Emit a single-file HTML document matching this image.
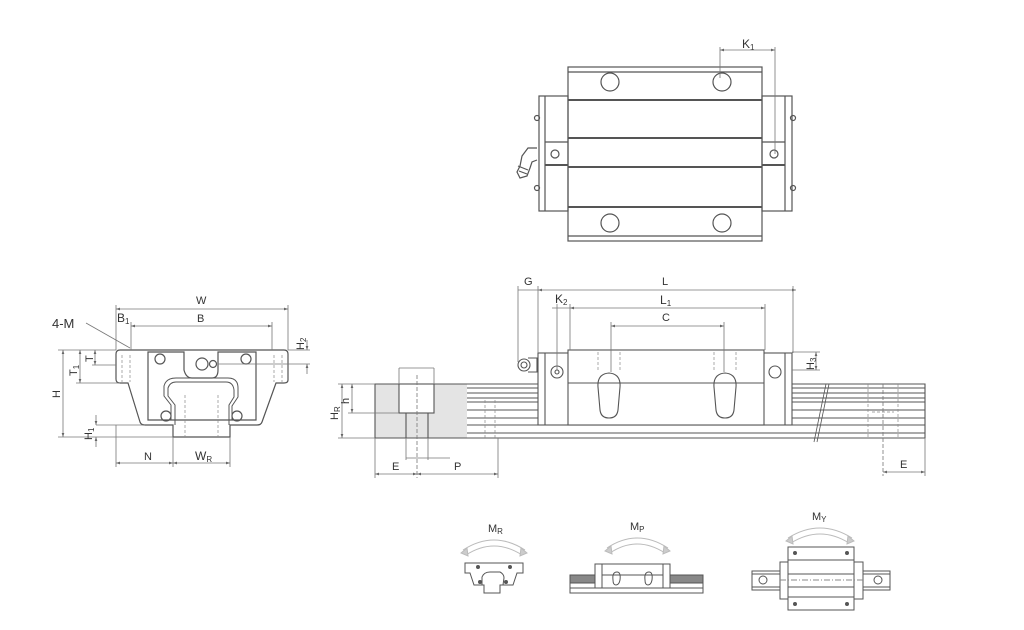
<!DOCTYPE html>
<html><head><meta charset="utf-8"><style>
html,body{margin:0;padding:0;background:#fff;width:1024px;height:630px;overflow:hidden}
svg text{font-family:"Liberation Sans",sans-serif;fill:#333}
</style></head><body>
<svg width="1024" height="630" viewBox="0 0 1024 630" xmlns="http://www.w3.org/2000/svg">
<defs>
<marker id="a" viewBox="0 0 6 6" refX="6" refY="3" markerWidth="5" markerHeight="5" orient="auto-start-reverse"><path d="M0,1L6,3L0,5z" fill="#666"/></marker>
</defs>
<g fill="none" stroke="#555" stroke-width="1.2">
<!-- TOP VIEW -->
<rect x="568" y="67" width="194" height="174"/>
<line x1="568" y1="72" x2="762" y2="72"/>
<line x1="568" y1="236" x2="762" y2="236"/>
<rect x="539" y="96" width="29" height="115"/>
<rect x="762" y="96" width="30" height="115"/>
<line x1="545" y1="96" x2="545" y2="211"/><line x1="785" y1="96" x2="785" y2="211"/>
<line x1="568" y1="100" x2="762" y2="100" stroke-width="2"/>
<line x1="568" y1="138" x2="762" y2="138" stroke-width="2"/>
<line x1="568" y1="167" x2="762" y2="167" stroke-width="2"/>
<line x1="568" y1="207" x2="762" y2="207" stroke-width="2"/>
<line x1="545" y1="142" x2="568" y2="142"/><line x1="545" y1="165" x2="568" y2="165" stroke-width="2"/>
<line x1="762" y1="142" x2="785" y2="142"/><line x1="762" y1="165" x2="785" y2="165" stroke-width="2"/>
<circle cx="610" cy="82" r="9"/><circle cx="722" cy="82" r="9"/>
<circle cx="610" cy="223" r="9"/><circle cx="722" cy="223" r="9"/>
<circle cx="555" cy="154" r="4"/><circle cx="774" cy="154" r="4"/>
<circle cx="537" cy="118" r="2.5"/><circle cx="537" cy="188" r="2.5"/>
<circle cx="793" cy="118" r="2.5"/><circle cx="793" cy="188" r="2.5"/>
<path d="M537,148 L528,148 L522,156 L520,166 L517,172 L520,178 L527,176 L530,168 L532,162 L537,160"/>
<path d="M518,166 L528,170 M519,171 L527,174"/>
</g>
<g stroke="#777" stroke-width="0.8" fill="none">
<line x1="720" y1="50" x2="775" y2="50" marker-start="url(#a)" marker-end="url(#a)"/>
<line x1="720" y1="47" x2="720" y2="78"/><line x1="775" y1="47" x2="775" y2="154"/>
</g>
<text x="742" y="48" font-size="12">K<tspan font-size="8" dy="2">1</tspan></text>

<!-- FRONT VIEW -->
<g fill="none" stroke="#555" stroke-width="1.2">
<path d="M120,350 L284,350 Q288,350 288,354 L288,380 Q288,383 284,383 L276,383 L262,422 Q261,425 257,425 L230,425 L230,437 L173,437 L173,425 L145,425 Q141,425 140,422 L128,383 L120,383 Q116,383 116,379 L116,354 Q116,350 120,350Z"/>
<path d="M148,352 L184,352 L184,370 Q186,378 192,378 L212,378 Q218,378 218,370 L218,352 L256,352 L256,420 L148,420Z"/>
<path d="M175,425 L175,405 L168,396 L168,388 Q170,382 176,382 L226,382 Q233,382 234,390 L234,397 L229,405 L229,425" stroke-width="1"/>
<path d="M171,420 L171,405 L164,396 L164,386 Q166,378 176,378 L228,378 Q238,378 238,388 L238,397 L232,406 L232,420" stroke-width="1"/>
<circle cx="160" cy="359" r="5"/><circle cx="246" cy="359" r="5"/>
<circle cx="166" cy="416" r="5"/><circle cx="237" cy="416" r="5"/>
<circle cx="202" cy="364" r="6"/><circle cx="213" cy="364" r="3.5"/>
</g>
<g stroke="#888" stroke-width="0.7" fill="none" stroke-dasharray="3,2">
<line x1="122" y1="355" x2="122" y2="382"/><line x1="130" y1="355" x2="130" y2="382"/>
<line x1="274" y1="355" x2="274" y2="382"/><line x1="282" y1="355" x2="282" y2="382"/>
<line x1="185" y1="395" x2="185" y2="437"/><line x1="218" y1="395" x2="218" y2="437"/>
</g>
<g stroke="#777" stroke-width="0.8" fill="none">
<line x1="116" y1="309" x2="288" y2="309" marker-start="url(#a)" marker-end="url(#a)"/>
<line x1="116" y1="305" x2="116" y2="350"/><line x1="288" y1="305" x2="288" y2="350"/>
<line x1="131" y1="326" x2="272" y2="326" marker-start="url(#a)" marker-end="url(#a)"/>
<line x1="131" y1="322" x2="131" y2="350"/><line x1="272" y1="322" x2="272" y2="350"/>
<line x1="86" y1="323" x2="130" y2="348"/>
<line x1="288" y1="350" x2="310" y2="350"/><line x1="218" y1="364" x2="310" y2="364"/>
<line x1="307" y1="340" x2="307" y2="350" marker-end="url(#a)"/><line x1="307" y1="374" x2="307" y2="364" marker-end="url(#a)"/>
<line x1="58" y1="350" x2="116" y2="350"/><line x1="58" y1="437" x2="173" y2="437"/>
<line x1="63" y1="350" x2="63" y2="437" marker-start="url(#a)" marker-end="url(#a)"/>
<line x1="80" y1="350" x2="80" y2="383" marker-start="url(#a)" marker-end="url(#a)"/>
<line x1="76" y1="383" x2="120" y2="383"/>
<line x1="95" y1="350" x2="95" y2="365" marker-start="url(#a)" marker-end="url(#a)"/>
<line x1="92" y1="365" x2="116" y2="365"/>
<line x1="96" y1="425" x2="145" y2="425"/>
<line x1="96" y1="415" x2="96" y2="425" marker-end="url(#a)"/><line x1="96" y1="447" x2="96" y2="437" marker-end="url(#a)"/>
<line x1="116" y1="463" x2="173" y2="463" marker-start="url(#a)" marker-end="url(#a)"/>
<line x1="173" y1="463" x2="230" y2="463" marker-start="url(#a)" marker-end="url(#a)"/>
<line x1="116" y1="425" x2="116" y2="467"/><line x1="173" y1="437" x2="173" y2="467"/><line x1="230" y1="437" x2="230" y2="467"/>
</g>
<text x="196" y="304" font-size="11">W</text>
<text x="197" y="322" font-size="11">B</text>
<text x="117" y="322" font-size="12">B<tspan font-size="8" dy="2">1</tspan></text>
<text x="52" y="328" font-size="13">4-M</text>
<text x="144" y="460" font-size="11">N</text>
<text x="195" y="460" font-size="12">W<tspan font-size="8" dy="2">R</tspan></text>
<text font-size="11" transform="translate(60,398) rotate(-90)">H</text>
<text font-size="11" transform="translate(77,376) rotate(-90)">T<tspan font-size="8" dy="2">1</tspan></text>
<text font-size="11" transform="translate(93,362) rotate(-90)">T</text>
<text font-size="11" transform="translate(92,440) rotate(-90)">H<tspan font-size="8" dy="2">1</tspan></text>
<text font-size="11" transform="translate(304,350) rotate(-90)">H<tspan font-size="8" dy="2">2</tspan></text>

<!-- SIDE VIEW -->
<rect x="375" y="384" width="92" height="54" fill="#e4e4e4" stroke="none"/>
<g fill="none" stroke="#555" stroke-width="1.1">
<path d="M375,384 L925,384 L925,438 L375,438Z"/>
<line x1="467" y1="388" x2="925" y2="388"/>
<line x1="467" y1="393" x2="538" y2="393"/><line x1="792" y1="393" x2="925" y2="393"/>
<line x1="467" y1="398" x2="538" y2="398"/><line x1="792" y1="398" x2="925" y2="398"/>
<line x1="467" y1="402" x2="538" y2="402"/><line x1="792" y1="402" x2="925" y2="402"/>
<line x1="467" y1="410" x2="538" y2="410"/><line x1="792" y1="410" x2="925" y2="410"/>
<line x1="467" y1="418" x2="538" y2="418"/><line x1="792" y1="418" x2="925" y2="418"/>
<line x1="467" y1="425" x2="925" y2="425"/>
<line x1="467" y1="433" x2="925" y2="433"/>
<rect x="399" y="384" width="35" height="29" fill="#fff"/>
<line x1="406" y1="413" x2="406" y2="438"/><line x1="428" y1="413" x2="428" y2="438"/>
<rect x="538" y="353" width="254" height="72" fill="#fff"/>
<line x1="545" y1="353" x2="545" y2="425"/><line x1="785" y1="353" x2="785" y2="425"/>
<rect x="568" y="350" width="196" height="75" fill="#fff"/>
<line x1="568" y1="383" x2="764" y2="383"/>
<path d="M598,387 Q597,374 609,373 Q621,374 620,387 L618,410 Q617,418 609,418 Q601,418 600,410Z"/>
<path d="M714,387 Q713,374 725,373 Q737,374 736,387 L734,410 Q733,418 725,418 Q717,418 716,410Z"/>
<circle cx="557" cy="372" r="6"/><circle cx="557" cy="372" r="2"/>
<circle cx="775" cy="372" r="6"/>
<circle cx="524" cy="365" r="6"/><circle cx="524" cy="365" r="3"/>
<path d="M528,358 L537,358 L537,372 L528,372"/>
<path d="M826,384 L814,442 M829,384 L817,442" stroke-width="0.8"/>
</g>
<g stroke="#888" stroke-width="0.7" fill="none" stroke-dasharray="3,2">
<line x1="598" y1="352" x2="598" y2="372"/><line x1="620" y1="352" x2="620" y2="372"/>
<line x1="714" y1="352" x2="714" y2="372"/><line x1="736" y1="352" x2="736" y2="372"/>
<line x1="868" y1="384" x2="868" y2="438"/><line x1="898" y1="384" x2="898" y2="438"/>
<line x1="872" y1="412" x2="894" y2="412"/>
<line x1="485" y1="400" x2="485" y2="438"/><line x1="495" y1="400" x2="495" y2="438"/>
</g>
<g stroke="#777" stroke-width="0.8" fill="none">
<line x1="538" y1="290" x2="796" y2="290" marker-start="url(#a)" marker-end="url(#a)"/>
<line x1="538" y1="286" x2="538" y2="353"/><line x1="793" y1="286" x2="793" y2="353"/>
<line x1="518" y1="290" x2="538" y2="290"/>
<line x1="518" y1="286" x2="518" y2="362"/>
<line x1="552" y1="308" x2="570" y2="308"/>
<line x1="570" y1="308" x2="765" y2="308" marker-start="url(#a)" marker-end="url(#a)"/>
<line x1="557" y1="304" x2="557" y2="370"/><line x1="570" y1="304" x2="570" y2="350"/><line x1="765" y1="304" x2="765" y2="350"/>
<line x1="611" y1="326" x2="724" y2="326" marker-start="url(#a)" marker-end="url(#a)"/>
<line x1="611" y1="322" x2="611" y2="372"/><line x1="724" y1="322" x2="724" y2="372"/>
<line x1="792" y1="352" x2="820" y2="352"/><line x1="792" y1="370" x2="820" y2="370"/>
<line x1="816" y1="352" x2="816" y2="370" marker-start="url(#a)" marker-end="url(#a)"/>
<line x1="338" y1="384" x2="375" y2="384"/><line x1="338" y1="438" x2="375" y2="438"/>
<line x1="342" y1="384" x2="342" y2="438" marker-start="url(#a)" marker-end="url(#a)"/>
<line x1="352" y1="384" x2="352" y2="413" marker-start="url(#a)" marker-end="url(#a)"/>
<line x1="348" y1="413" x2="399" y2="413"/>
<line x1="399" y1="368" x2="434" y2="368"/><line x1="399" y1="368" x2="399" y2="384"/><line x1="434" y1="368" x2="434" y2="384"/>
<line x1="375" y1="438" x2="375" y2="478"/><line x1="417" y1="375" x2="417" y2="478" stroke-dasharray="4,2"/>
<line x1="498" y1="438" x2="498" y2="478"/>
<line x1="406" y1="438" x2="406" y2="460"/><line x1="428" y1="438" x2="428" y2="460"/>
<line x1="406" y1="458" x2="450" y2="458"/>
<line x1="375" y1="474" x2="417" y2="474" marker-start="url(#a)" marker-end="url(#a)"/>
<line x1="417" y1="474" x2="498" y2="474" marker-start="url(#a)" marker-end="url(#a)"/>
<line x1="883" y1="384" x2="883" y2="476" stroke-dasharray="4,2"/>
<line x1="925" y1="438" x2="925" y2="476"/>
<line x1="883" y1="472" x2="925" y2="472" marker-start="url(#a)" marker-end="url(#a)"/>
</g>
<text x="524" y="285" font-size="11">G</text>
<text x="662" y="285" font-size="11">L</text>
<text x="555" y="303" font-size="12">K<tspan font-size="8" dy="2">2</tspan></text>
<text x="660" y="304" font-size="12">L<tspan font-size="8" dy="2">1</tspan></text>
<text x="662" y="321" font-size="11">C</text>
<text x="392" y="470" font-size="11">E</text>
<text x="454" y="470" font-size="11">P</text>
<text x="900" y="468" font-size="11">E</text>
<text font-size="11" transform="translate(338,420) rotate(-90)">H<tspan font-size="8" dy="2">R</tspan></text>
<text font-size="11" transform="translate(349,404) rotate(-90)">h</text>
<text font-size="11" transform="translate(814,370) rotate(-90)">H<tspan font-size="8" dy="2">3</tspan></text>

<!-- MOMENT ICONS -->
<g fill="none" stroke="#bbb" stroke-width="1">
<path d="M463,550 Q494,530 525,550"/><path d="M466,555 Q494,537 522,555"/>
<path d="M461,553 L467,548 L468,556Z" fill="#ccc"/><path d="M527,553 L521,548 L520,556Z" fill="#ccc"/>
<path d="M607,548 Q637,528 668,548"/><path d="M610,553 Q637,535 665,553"/>
<path d="M605,551 L611,546 L612,554Z" fill="#ccc"/><path d="M670,551 L664,546 L663,554Z" fill="#ccc"/>
<path d="M788,538 Q820,518 852,538"/><path d="M791,543 Q820,525 849,543"/>
<path d="M786,541 L792,536 L793,544Z" fill="#ccc"/><path d="M854,541 L848,536 L847,544Z" fill="#ccc"/>
</g>
<text x="488" y="532" font-size="11">M<tspan font-size="8" dy="2">R</tspan></text>
<text x="630" y="530" font-size="11">M<tspan font-size="8" dy="2">P</tspan></text>
<text x="812" y="520" font-size="11">M<tspan font-size="8" dy="2">Y</tspan></text>
<g fill="none" stroke="#555" stroke-width="1">
<path d="M465,563 L523,563 L523,573 L517,573 L513,585 L500,585 L500,593 L484,593 L484,585 L474,585 L470,573 L465,573Z"/>
<path d="M482,585 L482,577 Q484,572 490,572 L500,572 Q504,574 504,578 L503,585"/>
<circle cx="478" cy="567" r="1.5" fill="#555"/><circle cx="510" cy="567" r="1.5" fill="#555"/>
<circle cx="480" cy="582" r="1.5" fill="#555"/><circle cx="506" cy="582" r="1.5" fill="#555"/>
<rect x="570" y="575" width="133" height="18"/>
<rect x="570" y="575" width="25" height="8" fill="#888"/><rect x="670" y="575" width="33" height="8" fill="#888"/>
<line x1="570" y1="588" x2="703" y2="588"/>
<rect x="595" y="564" width="75" height="24" fill="#fff"/>
<line x1="602" y1="564" x2="602" y2="588"/><line x1="663" y1="564" x2="663" y2="588"/>
<line x1="602" y1="575" x2="663" y2="575"/>
<path d="M613,580 Q612,572 617,572 Q621,572 620,580 Q619,585 616,585 Q613,585 613,580Z"/>
<path d="M645,580 Q644,572 649,572 Q653,572 652,580 Q651,585 648,585 Q645,585 645,580Z"/>
<rect x="752" y="571" width="138" height="19"/>
<line x1="752" y1="574" x2="890" y2="574"/><line x1="752" y1="587" x2="890" y2="587"/>
<circle cx="763" cy="580" r="4"/><circle cx="878" cy="580" r="4"/>
<rect x="780" y="562" width="83" height="37" fill="#fff"/>
<rect x="788" y="547" width="66" height="63" fill="#fff"/>
<line x1="788" y1="560" x2="854" y2="560"/><line x1="788" y1="597" x2="854" y2="597"/>
<line x1="788" y1="574" x2="854" y2="574"/><line x1="788" y1="587" x2="854" y2="587"/>
<line x1="780" y1="580" x2="863" y2="580" stroke-dasharray="6,2,1,2" stroke="#888"/>
<circle cx="795" cy="553" r="1.5" fill="#555"/><circle cx="847" cy="553" r="1.5" fill="#555"/>
<circle cx="795" cy="604" r="1.5" fill="#555"/><circle cx="847" cy="604" r="1.5" fill="#555"/>
</g>
</svg>
</body></html>
